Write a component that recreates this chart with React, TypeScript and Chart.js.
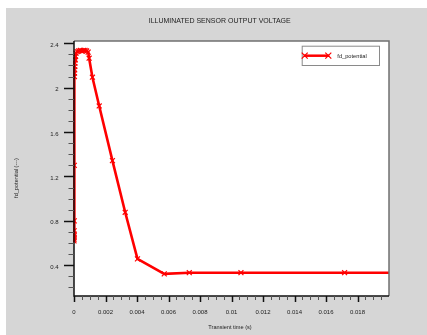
import React, { useEffect, useRef } from 'react';
import { Chart, registerables } from 'chart.js';

Chart.register(...registerables);

const chartTitle = 'ILLUMINATED SENSOR OUTPUT VOLTAGE';
const xAxisTitle = 'Transient time (s)';
const yAxisTitle = 'fd_potential (---)';
const seriesName = 'fd_potential';

const timeValues = [
  0, 0.000002, 0.000004, 0.000006, 0.000008, 0.00001, 0.000015, 0.00002,
  0.000025, 0.00003, 0.00004, 0.00005, 0.00006, 0.00008, 0.0001, 0.00013,
  0.0002, 0.0003, 0.0004, 0.0005, 0.0006, 0.0007, 0.0008, 0.0009, 0.00096,
  0.00117, 0.0016, 0.00244, 0.00325, 0.00403, 0.00573, 0.00732, 0.0106,
  0.01718, 0.025,
];
const potentialValues = [
  0.62, 0.635, 0.65, 0.665, 0.68, 0.71, 0.8, 1.3,
  2.1, 2.13, 2.16, 2.19, 2.22, 2.25, 2.28, 2.31,
  2.325, 2.33, 2.335, 2.33, 2.335, 2.335, 2.33, 2.32, 2.265,
  2.094, 1.835, 1.342, 0.877, 0.457, 0.322, 0.333, 0.333,
  0.333, 0.333,
];

const xTickValues = [0, 0.002, 0.004, 0.006, 0.008, 0.01, 0.012, 0.014, 0.016, 0.018];
const yTickValues = [0.4, 0.8, 1.2, 1.6, 2.0, 2.4];
const xMin = 0;
const xMax = 0.02;
const yMin = 0.123;
const yMax = 2.42;
const xMinorStep = 0.0005;
const xMajorStep = 0.002;
const yMinorStep = 0.1;
const yMajorStep = 0.4;

const FONT = '"Liberation Sans", Arial, sans-serif';
const RED = '#ff0000';
const TEXT = '#222222';

const fmt = (v: number) => String(parseFloat(Number(v).toFixed(6)));

const decorPlugin = {
  id: 'decor',
  beforeDraw(chart: any) {
    const { ctx, chartArea: a, width, height } = chart;
    ctx.save();
    ctx.fillStyle = '#d6d6d6';
    ctx.fillRect(0, 0, width, height);
    ctx.fillStyle = '#ffffff';
    ctx.fillRect(a.left, a.top, a.right - a.left, a.bottom - a.top);
    ctx.restore();
  },
  afterDraw(chart: any) {
    const { ctx, chartArea: a } = chart;
    const xs = chart.scales.x;
    const ys = chart.scales.y;
    ctx.save();
    // top/right frame
    ctx.strokeStyle = '#707070';
    ctx.lineWidth = 1.5;
    ctx.beginPath();
    ctx.moveTo(a.left, a.top);
    ctx.lineTo(a.right, a.top);
    ctx.lineTo(a.right, a.bottom);
    ctx.stroke();
    // axis lines
    ctx.strokeStyle = '#111111';
    ctx.lineWidth = 1.5;
    ctx.beginPath();
    ctx.moveTo(a.left, a.top);
    ctx.lineTo(a.left, a.bottom);
    ctx.lineTo(a.right, a.bottom);
    ctx.stroke();

    // y ticks
    const y0 = Math.ceil(yMin / yMinorStep - 1e-9);
    for (let i = y0; i * yMinorStep <= yMax + 1e-9; i++) {
      const v = i * yMinorStep;
      const major = Math.abs(v / yMajorStep - Math.round(v / yMajorStep)) < 1e-6;
      const py = Math.round(ys.getPixelForValue(v)) + 0.5;
      ctx.strokeStyle = major ? '#111111' : '#555555';
      ctx.lineWidth = major ? 1.5 : 1;
      ctx.beginPath();
      ctx.moveTo(a.left, py);
      ctx.lineTo(a.left - (major ? 10 : 5.5), py);
      ctx.stroke();
    }
    // x ticks
    for (let i = 0; xMin + i * xMinorStep < xMax - 1e-9; i++) {
      const v = xMin + i * xMinorStep;
      const major = Math.abs(v / xMajorStep - Math.round(v / xMajorStep)) < 1e-6;
      const px = Math.round(xs.getPixelForValue(v)) + 0.5;
      ctx.strokeStyle = major ? '#111111' : '#555555';
      ctx.lineWidth = major ? 1.5 : 1;
      ctx.beginPath();
      ctx.moveTo(px, a.bottom);
      ctx.lineTo(px, a.bottom + (major ? 6 : 4));
      ctx.stroke();
    }

    // titles
    ctx.fillStyle = TEXT;
    ctx.textAlign = 'center';
    ctx.textBaseline = 'middle';
    ctx.font = `7px ${FONT}`;
    ctx.fillText(chartTitle, 213.7, 13.5);
    ctx.font = `5.6px ${FONT}`;
    ctx.fillText(xAxisTitle, 224, 319.3);
    ctx.save();
    ctx.translate(10.5, 170);
    ctx.rotate(-Math.PI / 2);
    ctx.fillText(yAxisTitle, 0, 0);
    ctx.restore();

    // legend
    const bx = a.right - 87.3;
    const by = a.top + 4.7;
    const bw = 77.3;
    const bh = 19.3;
    ctx.fillStyle = '#ffffff';
    ctx.fillRect(bx, by, bw, bh);
    ctx.strokeStyle = '#8a8a8a';
    ctx.lineWidth = 1;
    ctx.strokeRect(bx + 0.5, by + 0.5, bw, bh);
    const ly = by + 10;
    const lx1 = bx + 2;
    const lx2 = bx + 27.6;
    ctx.strokeStyle = RED;
    ctx.lineWidth = 2.5;
    ctx.beginPath();
    ctx.moveTo(lx1, ly);
    ctx.lineTo(lx2, ly);
    ctx.stroke();
    ctx.lineWidth = 1.2;
    const r = 3;
    for (const cx of [lx1 + 1, lx2 - 1]) {
      ctx.beginPath();
      ctx.moveTo(cx - r, ly - r);
      ctx.lineTo(cx + r, ly + r);
      ctx.moveTo(cx + r, ly - r);
      ctx.lineTo(cx - r, ly + r);
      ctx.stroke();
    }
    ctx.fillStyle = TEXT;
    ctx.textAlign = 'left';
    ctx.font = `5.7px ${FONT}`;
    ctx.fillText(seriesName, bx + 35.6, ly + 1);
    ctx.restore();
  },
};

export default function App() {
  const ref = useRef<HTMLCanvasElement | null>(null);
  useEffect(() => {
    if (!ref.current) return;
    const points = timeValues.map((t, i) => ({ x: t, y: potentialValues[i] }));
    const chart = new Chart(ref.current, {
      type: 'line',
      data: {
        datasets: [
          {
            label: seriesName,
            data: points,
            borderColor: RED,
            backgroundColor: RED,
            borderWidth: 2.6,
            pointStyle: 'crossRot',
            pointRadius: 3.5,
            pointBorderWidth: 1.2,
            pointBorderColor: RED,
            pointHoverRadius: 3.5,
            tension: 0,
            clip: { left: 1, right: 0, top: 6, bottom: 6 },
          } as any,
        ],
      },
      options: {
        responsive: false,
        animation: false,
        events: [],
        layout: { padding: { left: 0, right: 38, top: 33, bottom: 0 } },
        plugins: {
          legend: { display: false },
          title: { display: false },
          tooltip: { enabled: false },
        },
        scales: {
          x: {
            type: 'linear',
            min: xMin,
            max: xMax,
            grid: { display: false, drawTicks: false },
            border: { display: false },
            ticks: {
              color: TEXT,
              font: { family: FONT, size: 6 },
              padding: 13.2,
              autoSkip: false,
              maxRotation: 0,
              callback: (v: any) => fmt(v),
            },
            afterBuildTicks: (s: any) => {
              s.ticks = xTickValues.map((v) => ({ value: v }));
            },
            afterFit: (s: any) => {
              s.height = 39;
            },
          },
          y: {
            type: 'linear',
            min: yMin,
            max: yMax,
            grid: { display: false, drawTicks: false },
            border: { display: false },
            ticks: {
              color: TEXT,
              font: { family: FONT, size: 6 },
              padding: 15.5,
              labelOffset: 2,
              autoSkip: false,
              callback: (v: any) => fmt(v),
            },
            afterBuildTicks: (s: any) => {
              s.ticks = yTickValues.map((v) => ({ value: v }));
            },
            afterFit: (s: any) => {
              s.width = 68;
            },
          },
        },
      },
      plugins: [decorPlugin],
    });
    return () => chart.destroy();
  }, []);

  return (
    <div style={{ position: 'absolute', left: 6, top: 8, width: 421, height: 327 }}>
      <canvas ref={ref} width={421} height={327} style={{ display: 'block', width: 421, height: 327 }} />
    </div>
  );
}
